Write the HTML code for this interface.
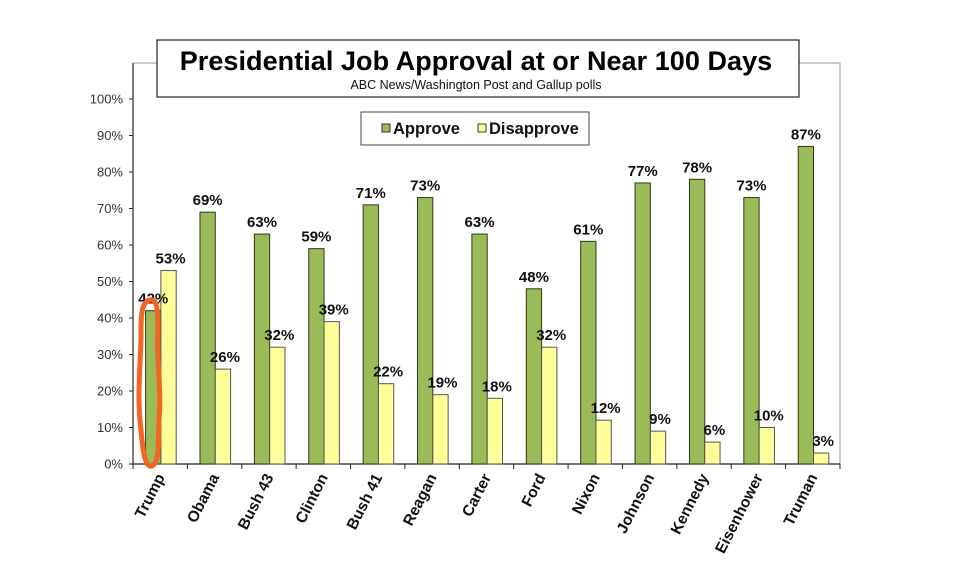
<!DOCTYPE html>
<html><head><meta charset="utf-8"><style>
body{margin:0;background:#fff;width:962px;height:563px;overflow:hidden;font-family:"Liberation Sans",Arial,sans-serif}
</style></head><body>
<svg id="chart" width="962" height="563" xmlns="http://www.w3.org/2000/svg" font-family="Liberation Sans, Arial, sans-serif"></svg>
<script>
const categories=["Trump","Obama","Bush 43","Clinton","Bush 41","Reagan","Carter","Ford","Nixon","Johnson","Kennedy","Eisenhower","Truman"];
const approve=[42,69,63,59,71,73,63,48,61,77,78,73,87];
const disapprove=[53,26,32,39,22,19,18,32,12,9,6,10,3];
const yTicks=[0,10,20,30,40,50,60,70,80,90,100];
const svg=document.getElementById('chart');
const NS="http://www.w3.org/2000/svg";
const X0=133,X1=840,Y0=464,Y100=99;
const cw=(X1-X0)/categories.length;
const y=v=>Y0-(Y0-Y100)*v/100;
const xc=i=>X0+i*cw;
function el(t,a,p){const e=document.createElementNS(NS,t);for(const k in a)e.setAttribute(k,a[k]);(p||svg).appendChild(e);return e;}
let f=el('path',{d:`M${X0},63 H${X1} V${Y0}`,fill:'none',stroke:'#bbb','stroke-width':1.5});

let ya=el('line',{x1:X0,y1:63,x2:X0,y2:Y0,stroke:'#222','stroke-width':1.2});

let xa=el('line',{x1:X0,y1:Y0,x2:X1,y2:Y0,stroke:'#222','stroke-width':1.2});

yTicks.forEach(t=>{
 let l=el('line',{x1:X0-4,y1:y(t),x2:X0,y2:y(t),stroke:'#222'});
 
 let tx=el('text',{x:X0-10,y:y(t)+4.5,'text-anchor':'end','font-size':13,fill:'#333'});
 tx.textContent=t+'%';
 
});
for(let i=0;i<=categories.length;i++){
 let l=el('line',{x1:xc(i),y1:Y0,x2:xc(i),y2:Y0+5,stroke:'#222'});
 
}
const bw=15.3,off=12.6;
categories.forEach((c,i)=>{
 const gx=xc(i)+off;
 let b1=el('rect',{x:gx,y:y(approve[i]),width:bw,height:Y0-y(approve[i]),fill:'#9bbb59',stroke:'#2d3a1a','stroke-width':1});
 
 let b2=el('rect',{x:gx+bw,y:y(disapprove[i]),width:bw,height:Y0-y(disapprove[i]),fill:'#ffff99',stroke:'#555','stroke-width':1});
 
 let t1=el('text',{x:gx+bw/2,y:y(approve[i])-7,'text-anchor':'middle','font-size':15,'font-weight':'bold',fill:'#111'});
 t1.textContent=approve[i]+'%';
 
 let t2=el('text',{x:gx+bw*1.5+2,y:y(disapprove[i])-7,'text-anchor':'middle','font-size':15,'font-weight':'bold',fill:'#111'});
 t2.textContent=disapprove[i]+'%';
 
 const lx=xc(i)+cw/2+5,ly=Y0+13;
 let cl=el('text',{x:lx,y:ly,'text-anchor':'end','font-size':15.5,'font-weight':'bold',fill:'#111',transform:`rotate(-63 ${lx} ${ly})`});
 cl.textContent=c;
 
});
let tb=el('rect',{x:157,y:40,width:642,height:57,fill:'#fff',stroke:'#222','stroke-width':1.2});

let tt=el('text',{x:476,y:70,'text-anchor':'middle','font-size':27,'font-weight':'bold',fill:'#000','letter-spacing':'0.05'});
tt.textContent='Presidential Job Approval at or Near 100 Days';

let st=el('text',{x:476,y:89,'text-anchor':'middle','font-size':12.5,fill:'#111'});
st.textContent='ABC News/Washington Post  and Gallup polls';

let lg=el('rect',{x:361,y:112,width:228,height:33,fill:'#fff',stroke:'#444','stroke-width':1});

let s1=el('rect',{x:382,y:124,width:8,height:8,fill:'#9bbb59',stroke:'#333'});

let l1=el('text',{x:393,y:134,'font-size':16.5,'font-weight':'bold',fill:'#111'});l1.textContent='Approve';

let s2=el('rect',{x:478,y:124,width:8,height:8,fill:'#ffff99',stroke:'#333'});

let l2=el('text',{x:489,y:134,'font-size':16.5,'font-weight':'bold',fill:'#111'});l2.textContent='Disapprove';

let an=el('path',{d:'M150,300 C140,302 141,320 141,340 C140,370 137,400 141,430 C143,455 146,468 152,466 C160,462 158,440 159,420 C162,390 156,360 158,330 C158,310 157,298 150,300 Z',fill:'none',stroke:'#f26522','stroke-width':5,'stroke-linejoin':'round'});

</script>
</body></html>
